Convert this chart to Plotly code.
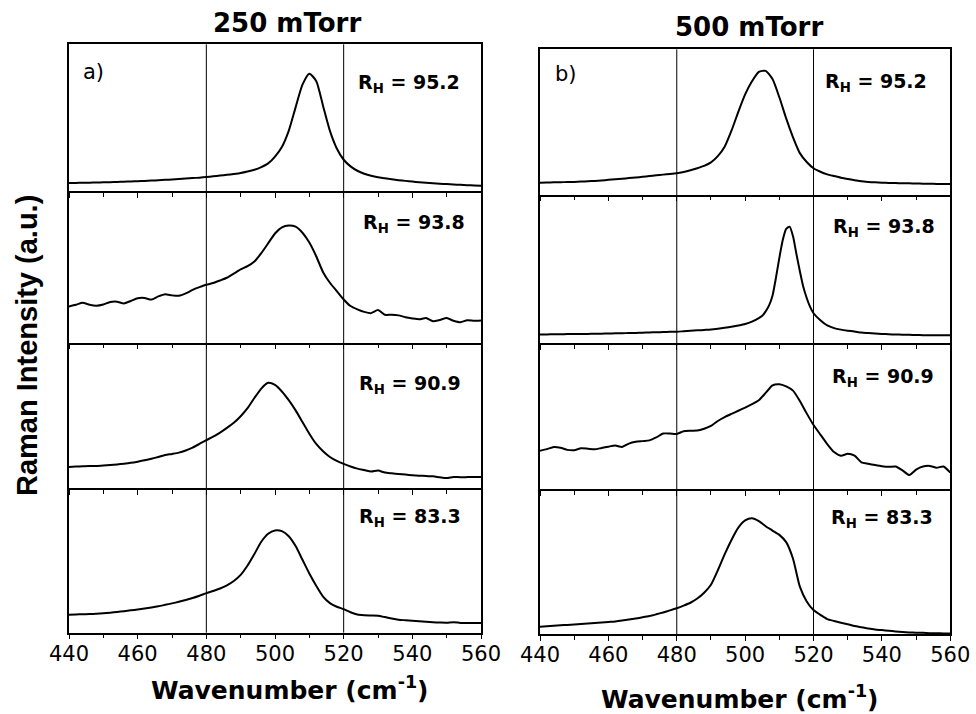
import plotly.graph_objects as go

# ---------------- data (intensity as % of each panel's height) ----------------
WN = list(range(440, 561, 2))
WN_R2 = list(range(440, 505, 2)) + list(range(505, 521)) + list(range(522, 561, 2))

# 250 mTorr column
L_95_2 = [5.4, 5.5, 5.6, 5.7, 5.8, 5.9, 6.0, 6.2, 6.3, 6.5,
          6.7, 6.9, 7.1, 7.3, 7.6, 7.9, 8.2, 8.5, 8.8, 9.1,
          9.5, 10.0, 10.5, 11.0, 11.6, 12.3, 13.3, 14.5, 16.3, 18.8,
          23.5, 30.0, 41.0, 57.0, 72.5, 80.0, 75.0, 58.0, 41.0, 29.0,
          21.3, 16.8, 13.8, 11.8, 10.4, 9.4, 8.7, 8.0, 7.4, 6.9,
          6.4, 6.0, 5.6, 5.3, 5.0, 4.7, 4.4, 4.2, 4.0, 3.7,
          3.5]
L_93_8 = [23.9, 25.0, 26.3, 25.0, 24.4, 25.2, 26.8, 27.0, 25.9, 27.5,
          29.3, 29.5, 28.4, 30.5, 32.0, 31.2, 30.9, 32.5, 34.8, 36.6,
          38.2, 39.3, 41.0, 42.8, 45.5, 48.3, 50.4, 53.5, 59.0, 65.5,
          72.0, 76.0, 77.3, 76.5, 72.5, 66.0, 57.0, 46.5, 39.5, 34.0,
          28.5, 24.2, 22.0, 20.3, 19.5, 21.5, 18.4, 18.5, 18.0, 16.8,
          16.0, 15.4, 16.3, 14.2, 15.0, 16.2, 14.5, 13.5, 14.8, 14.5,
          14.7]
L_90_9 = [14.7, 14.9, 15.1, 15.3, 15.3, 15.6, 16.0, 16.4, 16.9, 17.5,
          18.3, 19.2, 20.3, 21.5, 22.8, 23.6, 24.5, 26.0, 28.0, 30.5,
          33.1, 35.5, 38.3, 41.5, 45.0, 49.5, 55.0, 62.0, 68.5, 72.5,
          71.0, 66.5, 60.5, 53.5, 45.5, 37.5, 30.5, 25.5, 21.5, 18.8,
          16.8, 15.0, 13.5, 12.5, 11.5, 12.2, 10.8, 10.3, 9.8, 9.4,
          9.0, 8.7, 8.4, 8.2, 7.6, 7.1, 7.8, 7.6, 7.7, 7.8,
          7.8]
L_83_3 = [12.4, 12.6, 12.8, 12.9, 13.2, 13.5, 13.9, 14.4, 14.9, 15.5,
          16.1, 16.8, 17.5, 18.3, 19.3, 20.3, 21.4, 22.6, 24.0, 25.6,
          27.4, 28.9, 30.6, 32.8, 35.8, 40.0, 46.5, 54.5, 63.0, 68.5,
          70.8, 70.3, 66.8, 60.0, 50.5, 41.0, 32.5, 25.0, 20.5, 18.0,
          16.3, 14.2, 12.6, 12.1, 11.9, 11.7, 10.8, 9.8, 9.0, 8.6,
          8.2, 7.9, 7.5, 7.2, 7.0, 6.9, 7.3, 6.8, 6.7, 6.7,
          6.7]

# 500 mTorr column
R_95_2 = [8.3, 8.4, 8.5, 8.6, 8.7, 8.8, 9.0, 9.2, 9.5, 9.8,
          10.2, 10.6, 11.0, 11.4, 11.8, 12.3, 12.8, 13.3, 13.8, 14.2,
          14.7, 15.6, 16.8, 18.2, 19.8, 22.2, 26.5, 33.0, 44.0, 57.0,
          69.0, 78.0, 84.5, 85.2, 79.5, 67.0, 52.5, 39.5, 28.6, 22.5,
          18.2, 15.8, 14.0, 12.8, 11.7, 10.8, 10.0, 9.2, 8.8, 8.5,
          8.3, 8.1, 8.0, 7.9, 7.8, 7.7, 7.6, 7.5, 7.4, 7.3,
          7.3]
R_93_8 = [6.0, 6.0, 6.1, 6.1, 6.2, 6.2, 6.3, 6.3, 6.4, 6.5,
          6.6, 6.7, 6.8, 6.9, 7.0, 7.1, 7.3, 7.4, 7.6, 7.7,
          7.8, 8.1, 8.4, 8.7, 9.0, 9.3, 9.8, 10.4, 11.1, 12.0,
          13.0, 14.6, 17.0,
          18.5, 21.5, 25.5, 32.0, 44.0, 57.5, 69.5, 77.0, 78.5, 72.0,
          60.0, 48.5, 38.0, 30.5, 24.5, 20.2,
          15.5, 12.0, 10.2, 9.2, 8.5, 7.9, 7.2, 6.9, 6.6, 6.3,
          6.1, 5.9, 5.8, 5.7, 5.6, 5.5, 5.5, 5.4, 5.4, 5.4]
R_90_9 = [26.4, 27.5, 29.0, 28.5, 27.0, 26.8, 28.1, 27.8, 27.4, 28.3,
          29.2, 30.0, 29.0, 31.3, 32.5, 33.0, 33.5, 35.5, 38.2, 38.2,
          37.9, 39.8, 40.1, 40.2, 41.5, 43.4, 46.8, 49.5, 51.6, 53.8,
          56.0, 58.3, 61.0, 66.0, 71.2, 72.0, 70.5, 67.6, 60.5, 52.0,
          44.0, 37.5, 31.0, 25.5, 23.0, 24.3, 23.0, 18.5, 17.5, 16.6,
          15.8, 15.4, 15.6, 13.0, 9.8, 13.5, 15.6, 16.0, 14.8, 15.6,
          11.4]
R_83_3 = [5.0, 5.3, 5.7, 6.0, 6.3, 6.6, 6.9, 7.2, 7.6, 7.9,
          8.3, 8.7, 9.3, 10.0, 10.7, 11.5, 12.4, 13.6, 14.9, 16.3,
          17.8, 19.6, 21.6, 24.5, 28.5, 34.0, 44.0, 55.0, 65.0, 73.5,
          78.5, 80.0, 78.0, 74.5, 71.5, 68.5, 63.5, 52.0, 32.7, 22.5,
          16.6, 13.2, 10.3, 9.0, 7.8, 6.8, 5.6, 4.7, 3.8, 3.1,
          2.7, 2.2, 1.8, 1.4, 1.1, 0.9, 0.8, 0.6, 0.5, 0.4,
          0.3]

RH_VALUES = ["95.2", "93.8", "90.9", "83.3"]
COLUMN_TITLES = ["250 mTorr", "500 mTorr"]
PANEL_TAGS = ["a)", "b)"]
TICKS = [440, 460, 480, 500, 520, 540, 560]
GUIDES = [480, 520]

columns = [
    [(WN, L_95_2), (WN, L_93_8), (WN, L_90_9), (WN, L_83_3)],
    [(WN, R_95_2), (WN_R2, R_93_8), (WN, R_90_9), (WN, R_83_3)],
]

# ---------------- layout geometry (pixels) ----------------
W, H = 976, 714
COL_X = [(69, 481), (540, 950.3)]
COL_Y = [[44.3, 191, 342.7, 488.3, 632.7], [49.3, 194.7, 343.3, 489.3, 634]]
RH_POS = [[(0.697, 0.735), (0.709, 0.785), (0.699, 0.715), (0.699, 0.800)],
          [(0.690, 0.775), (0.709, 0.780), (0.707, 0.768), (0.705, 0.800)]]
TAG_POS = [(0.029, 0.811), (0.031, 0.83)]

FONT = "DejaVu Sans"
fig = go.Figure()
layout = dict(template="none", width=W, height=H, margin=dict(l=0, r=0, t=0, b=0, autoexpand=False),
              paper_bgcolor="white", plot_bgcolor="white", showlegend=False)
annotations = []
shapes = []

for c in range(2):
    x0, x1 = COL_X[c]
    ys = COL_Y[c]
    for r in range(4):
        idx = c * 4 + r + 1
        xn = "x" if idx == 1 else f"x{idx}"
        yn = "y" if idx == 1 else f"y{idx}"
        xs, vals = columns[c][r]
        fig.add_trace(go.Scatter(x=xs, y=vals, mode="lines", xaxis=xn, yaxis=yn,
                                 line=dict(color="black", width=2, shape="spline", smoothing=0.6),
                                 hoverinfo="skip"))
        top, bot = ys[r], ys[r + 1]
        layout["xaxis" if idx == 1 else f"xaxis{idx}"] = dict(
            domain=[x0 / W, x1 / W], range=[440, 560], anchor=yn, automargin=False,
            showline=True, linecolor="black", linewidth=1.5, mirror=(r == 0),
            ticks="outside", ticklen=5, tickwidth=1.2, tickcolor="black",
            tickmode="array", tickvals=TICKS, showticklabels=(r == 3),
            ticklabelstandoff=-4,
            tickfont=dict(family=FONT, size=21, color="black"),
            minor=dict(ticks="outside", ticklen=4, tickwidth=1, tickcolor="black", dtick=10, tick0=440),
            showgrid=False, zeroline=False)
        layout["yaxis" if idx == 1 else f"yaxis{idx}"] = dict(
            domain=[1 - bot / H, 1 - top / H], range=[0, 100], anchor=xn, automargin=False,
            showline=True, linecolor="black", linewidth=1.5, mirror=True,
            ticks="", showticklabels=False, showgrid=False, zeroline=False)
        ax, ay = RH_POS[c][r]
        annotations.append(dict(text=f"<b>R<sub>H</sub> = {RH_VALUES[r]}</b>",
                                xref=f"{xn} domain", yref=f"{yn} domain", x=ax, y=ay,
                                xanchor="left", yanchor="middle", showarrow=False,
                                font=dict(family=FONT, size=19, color="black")))
        if r == 0:
            tx, ty = TAG_POS[c]
            annotations.append(dict(text=PANEL_TAGS[c], xref=f"{xn} domain", yref=f"{yn} domain",
                                    x=tx, y=ty, xanchor="left", yanchor="middle", showarrow=False,
                                    font=dict(family=FONT, size=21, color="black")))
    xref_col = "x" if c == 0 else "x5"
    for g in GUIDES:
        shapes.append(dict(type="line", xref=xref_col, yref="paper", x0=g, x1=g,
                           y0=1 - ys[4] / H, y1=1 - ys[0] / H,
                           line=dict(color="black", width=1)))

# column titles
for c, (cx, cy) in enumerate([(287, 23), (749, 27.5)]):
    annotations.append(dict(text=f"<b>{COLUMN_TITLES[c]}</b>", xref="paper", yref="paper",
                            x=cx / W, y=1 - cy / H, xanchor="center", yanchor="middle",
                            showarrow=False, font=dict(family=FONT, size=26, color="black")))
# x titles
for cx, cy in [(290, 688), (740, 697)]:
    annotations.append(dict(text="<b>Wavenumber (cm<sup>-1</sup>)</b>", xref="paper", yref="paper",
                            x=cx / W, y=1 - cy / H, xanchor="center", yanchor="middle",
                            showarrow=False, font=dict(family=FONT, size=25, color="black")))
# y title
annotations.append(dict(text="<b>Raman Intensity (a.u.)</b>", xref="paper", yref="paper",
                        x=27 / W, y=1 - 346 / H, xanchor="center", yanchor="middle",
                        textangle=-90, showarrow=False,
                        font=dict(family="Liberation Sans", size=29, color="black")))

layout["annotations"] = annotations
layout["shapes"] = shapes
fig.update_layout(**layout)
fig.write_html("out.html")
